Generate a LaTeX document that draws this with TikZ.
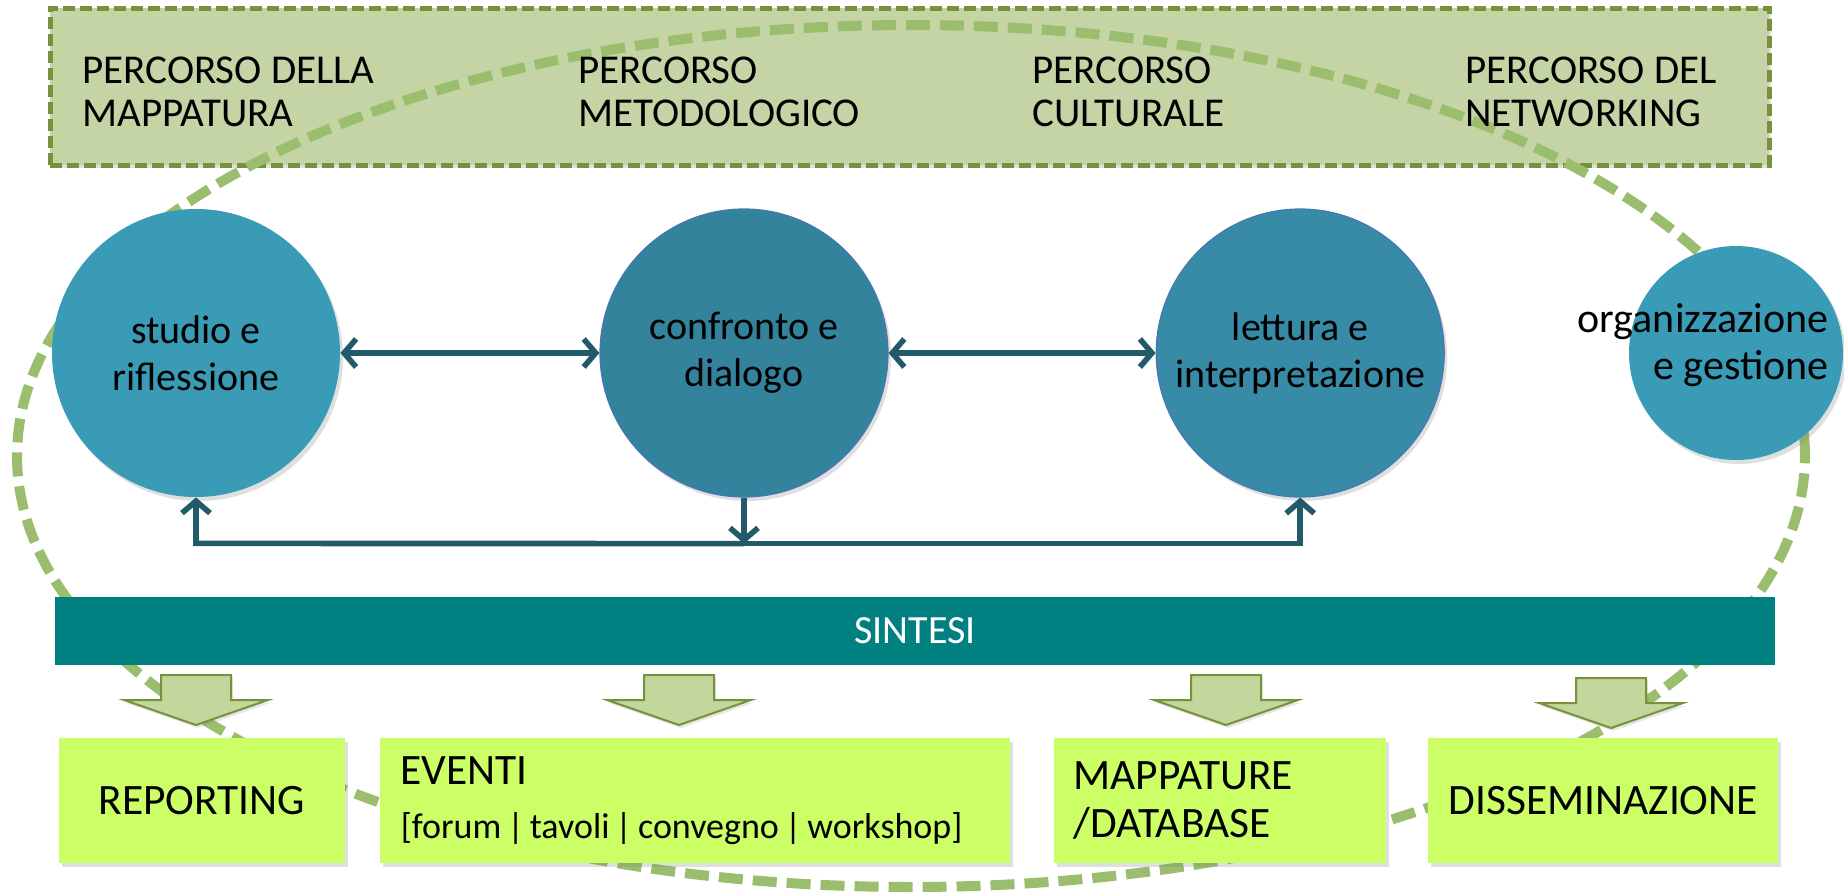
\documentclass[tikz,border=0pt]{standalone}
\usepackage{fontspec}
\setmainfont{Carlito}
\usepackage{xcolor}
\usepackage{tikz}
\usetikzlibrary{positioning, arrows.meta, shadows}

\definecolor{pathfill}{RGB}{196,212,165}
\definecolor{pathline}{RGB}{118,146,60}
\definecolor{ringgreen}{RGB}{155,190,110}
\definecolor{circA}{RGB}{57,155,181}
\definecolor{circB}{RGB}{51,131,157}
\definecolor{circC}{RGB}{55,139,167}
\definecolor{circrim}{RGB}{74,118,178}
\definecolor{linkcol}{RGB}{35,90,105}
\definecolor{synth}{RGB}{0,128,128}
\definecolor{outfill}{RGB}{204,255,102}
\definecolor{arrfill}{RGB}{195,214,155}

\begin{document}
\begin{tikzpicture}[x=0.5pt, y=-0.5pt, font=\fontsize{20}{23.5}\selectfont]

			% Define styles
			\tikzset{
				pathbox/.style={
					rectangle, fill=pathfill, draw=pathline, line width=2.5pt,
					dash pattern=on 6pt off 2.5pt, inner sep=0pt,
					minimum width=859.5pt, minimum height=78.5pt,
					drop shadow={opacity=0.25, shadow xshift=1pt, shadow yshift=-1.5pt}
				},
				pathtext/.style={anchor=west, inner sep=0pt, align=left, font=\fontsize{20.5}{21.5}\selectfont},
				ring/.style={draw=ringgreen, line width=5pt, dash pattern=on 12pt off 5pt},
				phase/.style={
					circle, fill=circA, inner sep=0pt, minimum size=144pt, align=center,
					drop shadow={opacity=0.25, shadow xshift=1.5pt, shadow yshift=-2pt}
				},
				synthbar/.style={
					rectangle, fill=synth, text=white, inner sep=0pt,
					minimum width=860pt, minimum height=34pt
				},
				outbox/.style={
					rectangle, fill=outfill, inner sep=0pt, minimum height=62.5pt,
					font=\fontsize{21.7}{24}\selectfont,
					drop shadow={opacity=0.25, shadow xshift=1.5pt, shadow yshift=-2pt}
				},
				linkline/.style={draw=linkcol, line width=2.8pt},
				biarrow/.style={linkline, <->, >={Straight Barb[length=6pt,width=14pt]}},
				uparrow/.style={linkline, ->, >={Straight Barb[length=6pt,width=14pt]}},
				blockarrow/.style={fill=arrfill, draw=pathline, line width=1pt,
					drop shadow={opacity=0.2, shadow xshift=1pt, shadow yshift=-1.5pt}}
			}

			\useasboundingbox (0,0) rectangle (1844,894);

			% Paths band (top)
			\node (paths) [pathbox] at (909.5,86.5) {};

			% Dashed ring round everything
			\draw[ring] (911,456) ellipse [x radius=447pt, y radius=215.5pt];

			\node (mappatura) [pathtext] at (82,92)   {PERCORSO DELLA\\MAPPATURA};
			\node (metodo)    [pathtext] at (578,92)  {PERCORSO\\METODOLOGICO};
			\node (cultura)   [pathtext] at (1032,92) {PERCORSO\\CULTURALE};
			\node (network)   [pathtext] at (1465,92) {PERCORSO DEL\\NETWORKING};

			% Phases (circles)
			\node (studio)    [phase] at (196,353) {studio e\\riflessione};
			\node (confronto) [phase, fill=circB, draw=circrim, line width=0.6pt, right=129.5pt of studio] {confronto e\\dialogo};
			\node (lettura)   [phase, fill=circC, draw=circrim, line width=0.6pt, right=133.5pt of confronto] {lettura e\\interpretazione};
			\node (gestione)  [phase, minimum size=107pt] at (1736,353) {};
			\node (gestlabel) [anchor=east, inner sep=0pt, align=right, font=\fontsize{21}{23.5}\selectfont] at (1829,345) {organizzazione\\e gestione};

			% Arrows between phases
			\draw[biarrow] (studio) -- (confronto);
			\draw[biarrow] (confronto) -- (lettura);

			\coordinate[below=23pt of studio.south] (busL);
			\coordinate[below=23pt of confronto.south] (busM);
			\coordinate[below=23pt of lettura.south] (busR);
			\draw[uparrow] (busM) -- (busL) -- (studio.south);
			\draw[uparrow] (busM) -- (busR) -- (lettura.south);
			\draw[uparrow] (confronto.south) -- (busM);

			% Synthesis bar
			\node (sintesi) [synthbar] at (915,631) {SINTESI};

			% Block arrows down to the outputs
			\foreach \cx/\ty in {196/675, 679/675, 1226/675, 1611/678}
				\draw[blockarrow] (\cx-35,\ty) -- (\cx+35,\ty) -- (\cx+35,\ty+25) -- (\cx+72,\ty+25)
					-- (\cx,\ty+50) -- (\cx-72,\ty+25) -- (\cx-35,\ty+25) -- cycle;

			% Outputs
			\node (reporting)  [outbox, minimum width=143pt] at (202,800.5) {REPORTING};
			\node (eventi)     [outbox, minimum width=315pt, text width=294pt, inner xsep=10.5pt, align=left,
				font=\fontsize{18}{27}\selectfont, right=17pt of reporting]
				{{\fontsize{21.7}{24}\selectfont EVENTI}\\{}[forum\,|\,tavoli\,|\,convegno\,|\,workshop]};
			\node (mappature)  [outbox, minimum width=166pt, text width=146pt, inner xsep=10pt, align=left,
				right=21.5pt of eventi] {MAPPATURE\\/DATABASE};
			\node (dissem)     [outbox, minimum width=175pt, right=21pt of mappature] {DISSEMINAZIONE};

		\end{tikzpicture}
\end{document}
